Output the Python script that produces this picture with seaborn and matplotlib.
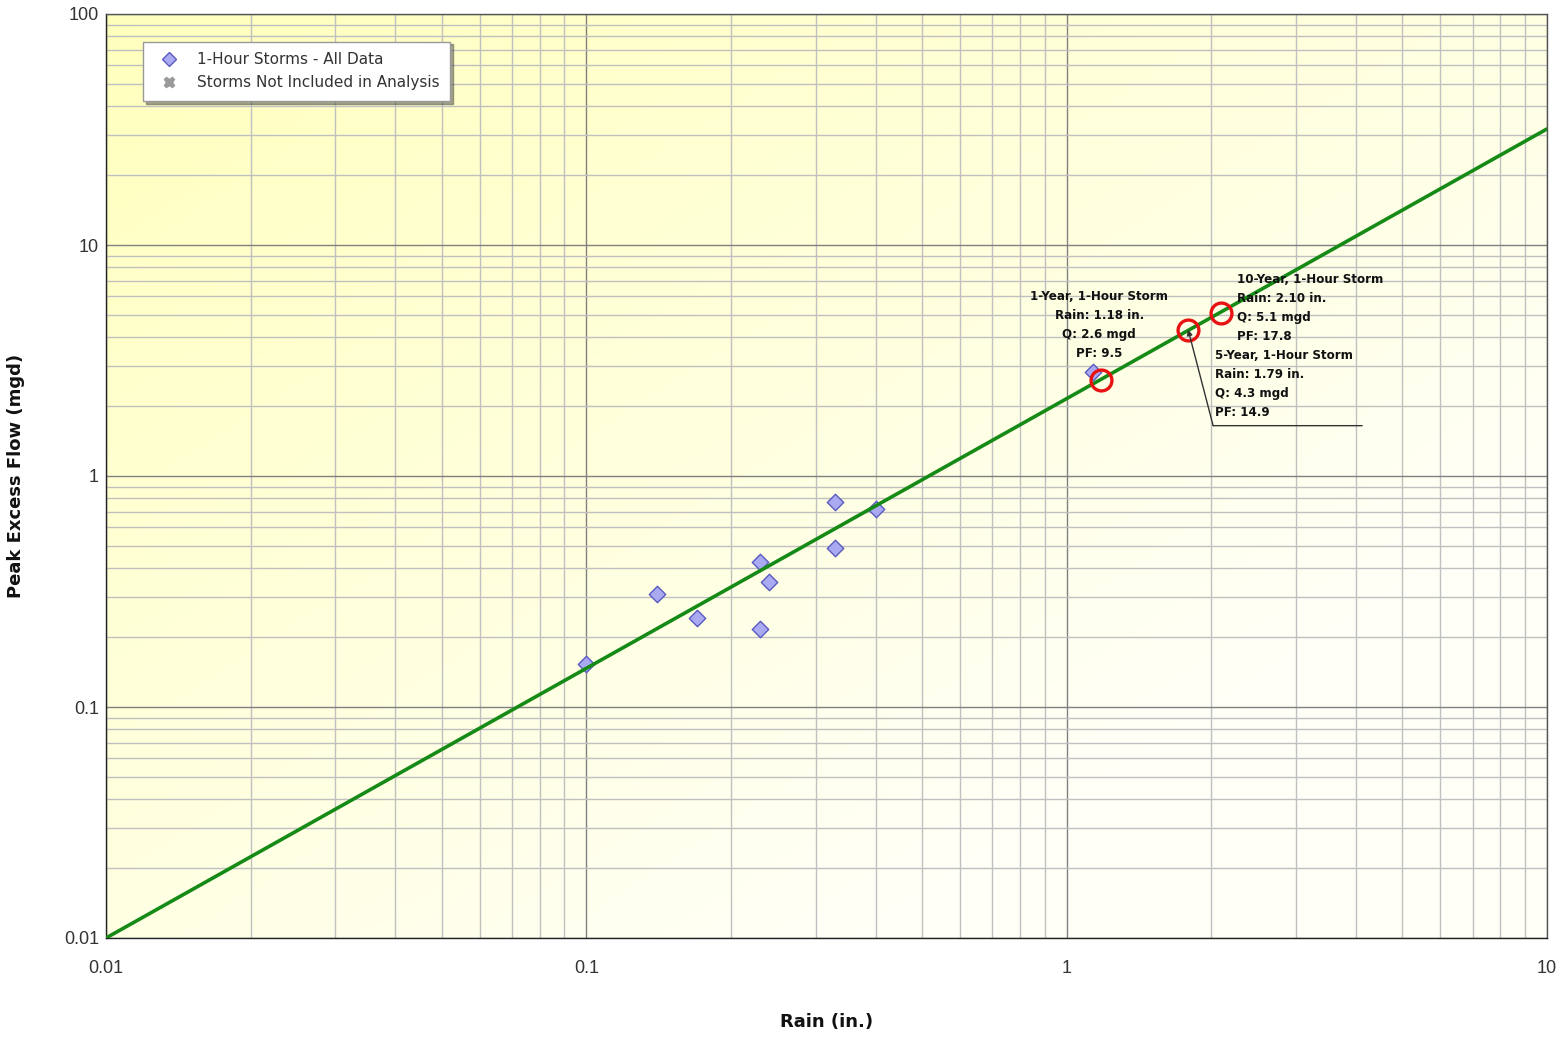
import numpy as np
import pandas as pd
import seaborn as sns
import matplotlib.pyplot as plt
from matplotlib.transforms import offset_copy
from matplotlib.lines import Line2D
from matplotlib.ticker import FixedLocator, LogLocator, NullFormatter

# observed 1-hour storms
rain = [0.100, 0.140, 0.170, 0.230, 0.240, 0.230, 0.330, 0.330, 0.401, 1.135]
peak_flow = [0.153, 0.308, 0.243, 0.425, 0.347, 0.218, 0.771, 0.487, 0.720, 2.82]

# fitted regression line (straight on log-log, two end points)
fit_rain = [0.01, 10.0]
fit_flow = [0.01, 31.8]

# design storms
design_names = ["1-Year, 1-Hour Storm", "5-Year, 1-Hour Storm", "10-Year, 1-Hour Storm"]
design_rain = [1.18, 1.79, 2.10]
design_q = [2.6, 4.3, 5.1]
design_pf = [9.5, 14.9, 17.8]

x_ticks = [0.01, 0.1, 1, 10]
x_tick_labels = ["0.01", "0.1", "1", "10"]
y_ticks = [0.01, 0.1, 1, 10, 100]
y_tick_labels = ["0.01", "0.1", "1", "10", "100"]

obs = pd.DataFrame({"rain": rain, "flow": peak_flow})
fit = pd.DataFrame({"rain": fit_rain, "flow": fit_flow})

sns.set_theme(style="white")
plt.rcParams["font.family"] = ["Liberation Sans", "DejaVu Sans"]

fig = plt.figure(figsize=(15.68, 10.38), dpi=100)
pos = [106 / 1568, 1 - 938 / 1038, 1441 / 1568, 924 / 1038]

# yellow gradient background
bg = fig.add_axes(pos, zorder=0)
gx, gy = np.meshgrid(np.linspace(0, 1, 300), np.linspace(0, 1, 200))
t = np.clip((gx * 0.9 + gy * 0.9) / 1.4, 0, 1)
c0 = np.array([1.0, 1.0, 0.74])
c1 = np.array([1.0, 1.0, 0.975])
img = c0[None, None, :] * (1 - t[..., None]) + c1[None, None, :] * t[..., None]
bg.imshow(img, extent=[0, 1, 0, 1], aspect="auto", origin="upper")
bg.set_axis_off()

ax = fig.add_axes(pos, zorder=1)
ax.set_facecolor("none")
ax.set_xscale("log")
ax.set_yscale("log")
ax.set_xlim(0.01, 10)
ax.set_ylim(0.01, 100)

ax.xaxis.set_major_locator(FixedLocator(x_ticks))
ax.yaxis.set_major_locator(FixedLocator(y_ticks))
ax.set_xticklabels(x_tick_labels, family="Liberation Sans")
ax.set_yticklabels(y_tick_labels, family="Liberation Sans")
ax.xaxis.set_minor_locator(LogLocator(base=10, subs=np.arange(2, 10)))
ax.yaxis.set_minor_locator(LogLocator(base=10, subs=np.arange(2, 10)))
ax.xaxis.set_minor_formatter(NullFormatter())
ax.yaxis.set_minor_formatter(NullFormatter())
ax.grid(True, which="major", color="#808080", linewidth=1.0)
ax.grid(True, which="minor", color="#c0c0c0", linewidth=1.0)
ax.set_axisbelow(True)
ax.tick_params(which="both", length=0, labelsize=13, labelcolor="#333333")
ax.tick_params(axis="x", pad=16)
ax.tick_params(axis="y", pad=5)
for s in ax.spines.values():
    s.set_color("#555555")
    s.set_linewidth(1.0)
ax.spines["left"].set_color("#222222")
ax.spines["bottom"].set_color("#222222")

sns.lineplot(data=fit, x="rain", y="flow", ax=ax, color="#168a16", linewidth=2.6, zorder=3)
sns.scatterplot(data=obs, x="rain", y="flow", ax=ax, marker="D", s=70,
                color="#aaaaf2", edgecolor="#5a5ac0", linewidth=1.0, zorder=2)
ax.plot(design_rain, design_q, linestyle="none", marker="o", markersize=15,
        markerfacecolor="none", markeredgecolor="#e81212", markeredgewidth=2.4, zorder=4)

ax.set_xlabel("Rain (in.)", fontsize=13, fontweight="bold", family="DejaVu Sans",
              color="#111111", labelpad=26)
ax.set_ylabel("Peak Excess Flow (mgd)", fontsize=13, fontweight="bold", family="DejaVu Sans",
              color="#111111", labelpad=28)

# annotations
labels = [f"{n}\nRain: {r:.2f} in.\nQ: {q:.1f} mgd\nPF: {p:.1f}"
          for n, r, q, p in zip(design_names, design_rain, design_q, design_pf)]
akw = dict(fontsize=8.6, fontweight="bold", family="DejaVu Sans", color="#111111",
           linespacing=1.6, textcoords="offset pixels", zorder=5)
ax.annotate(labels[0], (design_rain[0], design_q[0]), xytext=(-2, 20),
            ha="center", va="bottom", multialignment="center", **akw)
ax.annotate(labels[2], (design_rain[2], design_q[2]), xytext=(16, 40),
            ha="left", va="top", **akw)
ax.annotate(labels[1], (design_rain[1], design_q[1]), xytext=(27, -19),
            ha="left", va="top", **akw)

# callout for 5-year storm
ax.annotate("", (design_rain[1], design_q[1]), xytext=(25, -96), textcoords="offset pixels",
            arrowprops=dict(arrowstyle="-|>", color="#333333", lw=1.0, mutation_scale=8,
                            shrinkA=0, shrinkB=0), zorder=5)
ax.annotate("", xy=(design_rain[1], design_q[1]),
            xycoords=offset_copy(ax.transData, fig=fig, x=25, y=-96, units="dots"),
            xytext=(design_rain[1], design_q[1]),
            textcoords=offset_copy(ax.transData, fig=fig, x=174, y=-96, units="dots"),
            arrowprops=dict(arrowstyle="-", color="#333333", lw=1.0, shrinkA=0, shrinkB=0),
            zorder=5)

handles = [
    Line2D([], [], linestyle="none", marker="D", markersize=7.5, markerfacecolor="#aaaaf2",
           markeredgecolor="#5a5ac0", markeredgewidth=1.0),
    Line2D([], [], linestyle="none", marker="X", markersize=7.5, markerfacecolor="#9a9a9a",
           markeredgecolor="#9a9a9a"),
]
leg = ax.legend(handles, ["1-Hour Storms - All Data", "Storms Not Included in Analysis"],
                loc="upper left", bbox_to_anchor=(0.0257, 0.970), frameon=True,
                fancybox=False, shadow=True, prop={"family": "DejaVu Sans", "size": 11},
                borderpad=0.7, handletextpad=0.8, labelspacing=0.5, borderaxespad=0)
leg.get_frame().set_edgecolor("#999999")
leg.get_frame().set_facecolor("white")
leg.get_frame().set_alpha(1)
for txt in leg.get_texts():
    txt.set_color("#333333")

fig.savefig("out.png", dpi=100)
